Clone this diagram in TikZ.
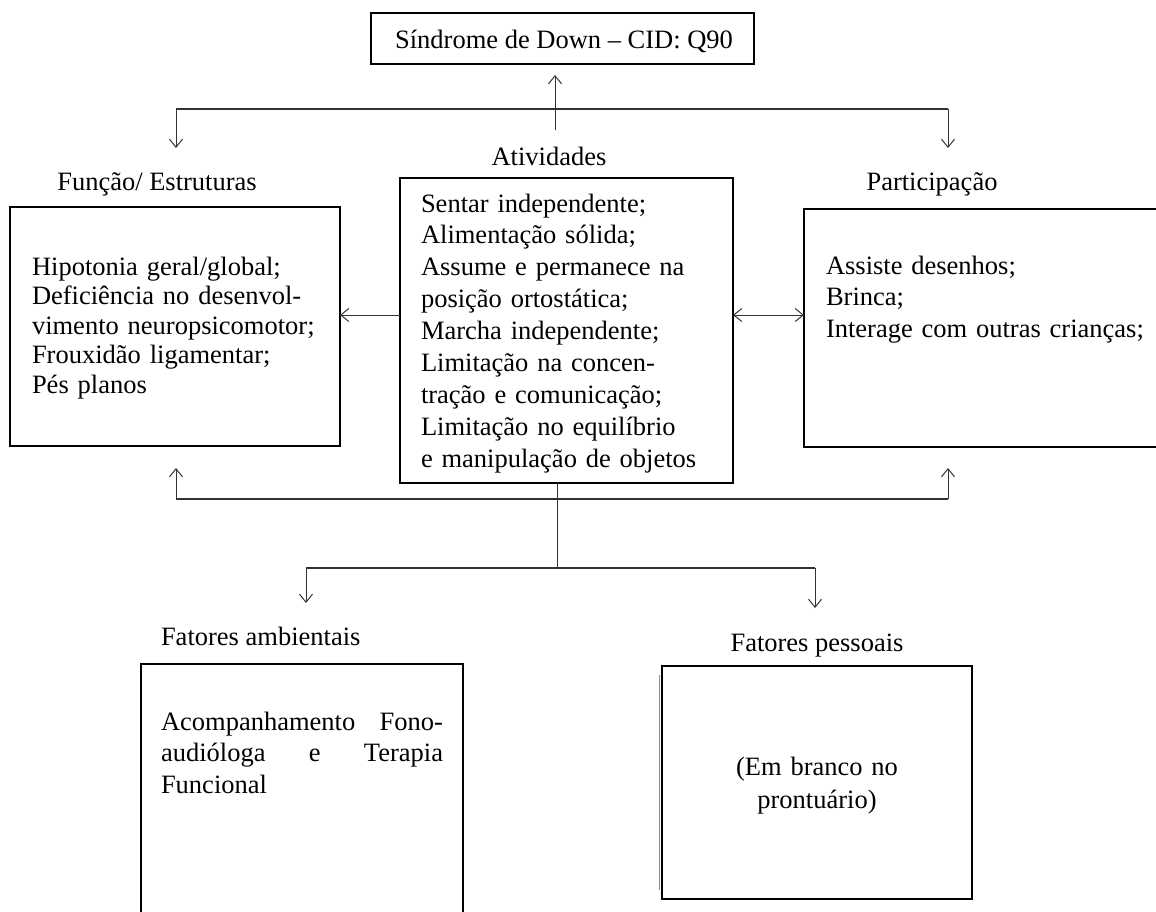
\documentclass[tikz,border=0pt]{standalone}
\usepackage{fontspec}
\setmainfont{Liberation Serif}
\usetikzlibrary{arrows.meta}
\begin{document}
\begin{tikzpicture}[x=1pt,y=-1pt,
  box/.style={draw=black, line width=1.4pt, inner sep=0pt, outer sep=0pt, anchor=north west},
  conn/.style={draw=black!80, line width=1pt},
  hconn/.style={draw=black!80, line width=1.6pt},
  arr/.style={conn, -{Straight Barb[length=8pt,width=13pt]}},
  darr/.style={conn, {Straight Barb[length=8pt,width=13pt]}-{Straight Barb[length=8pt,width=13pt]}},
  txt/.style={inner sep=0pt, outer sep=0pt, font=\fontsize{26.5}{32}\selectfont},
  lbl/.style={txt, anchor=base}]
\useasboundingbox (0,0) rectangle (1156,911);
% boxes
\node[box, minimum width=383pt, minimum height=51pt] (top) at (371,13) {};
\node[box, minimum width=330pt, minimum height=239pt] (fe) at (10,207) {};
\node[box, minimum width=333pt, minimum height=305pt] (mid) at (400,178) {};
\node[box, minimum width=370pt, minimum height=238pt] (part) at (804,209) {};
\node[box, minimum width=322pt, minimum height=270pt] (amb) at (141,664) {};
\node[box, minimum width=310pt, minimum height=233pt] (pes) at (662,666) {};
\draw[black!45, line width=0.8pt] ([xshift=-3pt,yshift=-9pt]pes.north west) -- ([xshift=-3pt,yshift=9pt]pes.south west);
% texts
\node[lbl] (toptxt) at (564,48) {Síndrome de Down – CID: Q90};
\node[lbl] (atlbl) at (549,165) {Atividades};
\node[lbl] (felbl) at (157,190) {Função/ Estruturas};
\node[lbl] (partlbl) at (932,190) {Participação};
\node[lbl, anchor=base west] (amblbl) at (161,645) {Fatores ambientais};
\node[lbl] (peslbl) at (817,651) {Fatores pessoais};
\node[txt, anchor=base west, text width=320pt, align=left, font=\fontsize{26.5}{29.5}\selectfont] (fetxt) at (32,275)
  {Hipotonia geral/global;\\ Deficiência no desenvol-\\ vimento neuropsicomotor;\\ Frouxidão ligamentar;\\ Pés planos};
\node[txt, anchor=base west, text width=320pt, align=left, font=\fontsize{26.5}{31.9}\selectfont] (midtxt) at (421,212)
  {Sentar independente;\\ Alimentação sólida;\\ Assume e permanece na\\ posição ortostática;\\ Marcha independente;\\ Limitação na concen-\\ tração e comunicação;\\ Limitação no equilíbrio\\ e manipulação de objetos};
\node[txt, anchor=base west, text width=330pt, align=left, font=\fontsize{26.5}{31.5}\selectfont] (parttxt) at (826,274)
  {Assiste desenhos;\\ Brinca;\\ Interage com outras crianças;};
\node[txt, anchor=base west, text width=282pt, align=left, font=\fontsize{26.5}{31.5}\selectfont] (ambtxt) at (161,730)
  {\makebox[282pt][l]{Acompanhamento\hfill Fono-}\\ \makebox[282pt][l]{audióloga\hfill e\hfill Terapia}\\ Funcional};
\node[txt, anchor=base, text width=300pt, align=center, font=\fontsize{26.5}{33}\selectfont] (pestxt) at (817,775)
  {(Em branco no\\ prontuário)};
% coordinates
\coordinate (upstart) at (555,130);
\coordinate (uptip) at (555,75);
\coordinate (tl) at (176,109);
\coordinate (tr) at (948,109);
\coordinate (fetip) at (176,148);
\coordinate (parttip) at (948,148);
\coordinate (lrow) at (0,315);
\coordinate (bl) at (176,499);
\coordinate (br) at (948,499);
\coordinate (febot) at (176,468);
\coordinate (partbot) at (948,468);
\coordinate (mj) at (557,568);
\coordinate (aj) at (306,568);
\coordinate (pj) at (815,568);
\coordinate (amtip) at (306,603);
\coordinate (pestip) at (815,608);
% connectors
\draw[arr] (upstart) -- (uptip);
\draw[hconn] (tl) -- (tr);
\draw[arr] (tl) -- (fetip);
\draw[arr] (tr) -- (parttip);
\draw[arr] (mid.west |- lrow) -- (fe.east |- lrow);
\draw[darr] (mid.east |- lrow) -- (part.west |- lrow);
\draw[hconn] (bl) -- (br);
\draw[arr] (bl) -- (febot);
\draw[arr] (br) -- (partbot);
\draw[conn] (mid.south -| mj) -- (mj);
\draw[hconn] (aj) -- (pj);
\draw[arr] (aj) -- (amtip);
\draw[arr] (pj) -- (pestip);
\end{tikzpicture}
\end{document}
